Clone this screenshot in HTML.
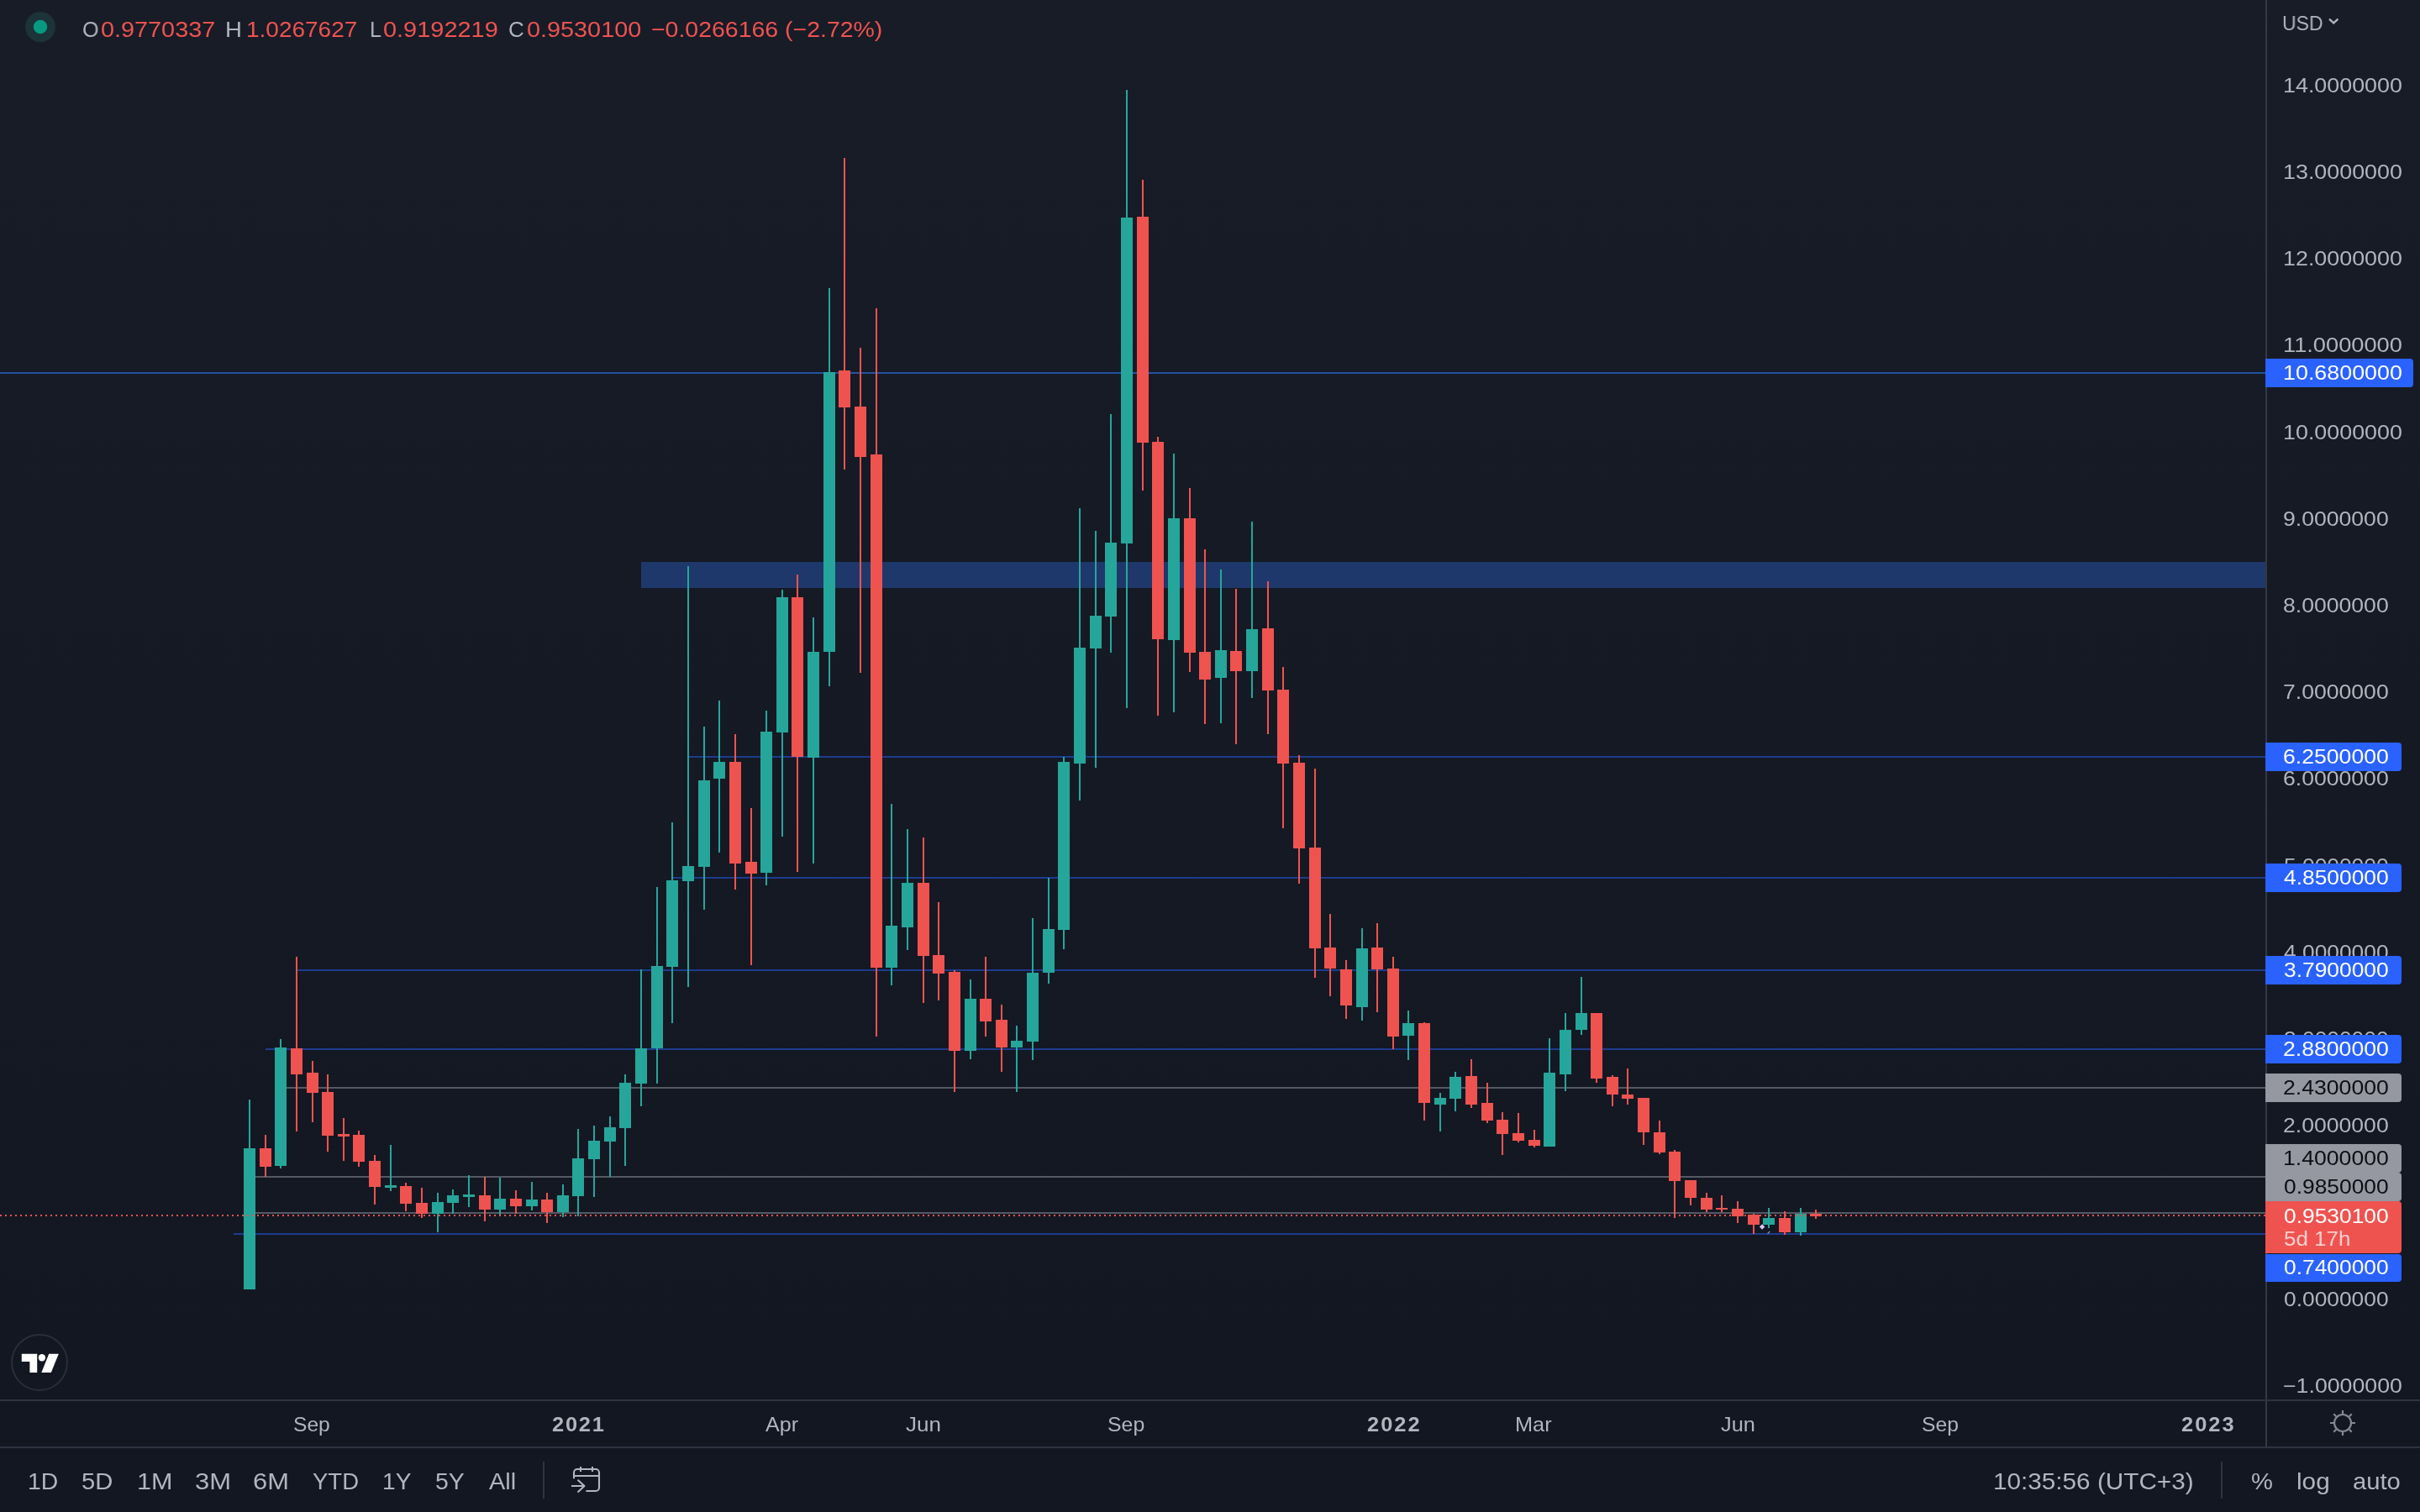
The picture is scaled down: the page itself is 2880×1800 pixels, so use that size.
<!DOCTYPE html>
<html><head><meta charset="utf-8"><title>chart</title>
<style>
html,body{margin:0;padding:0;background:#131722;overflow:hidden}
body{width:2880px;height:1800px;position:relative;overflow:hidden;font-family:"Liberation Sans",sans-serif}
#pane{position:absolute;left:0;top:0;width:2880px;height:1666px;background:linear-gradient(#181c27,#131722)}
svg{position:absolute;left:0;top:0}
.t{position:absolute;white-space:pre;line-height:1;transform-origin:0 0;display:block;will-change:transform}
.lb{position:absolute;left:2696px;border-radius:0 4px 4px 0}
</style></head><body>
<div id="pane"></div>
<svg width="2880" height="1800" viewBox="0 0 2880 1800" shape-rendering="crispEdges">
<rect x="763" y="669" width="1933" height="31" fill="#1f386b"/>
<rect x="0" y="443" width="2696" height="2" fill="#25539f"/>
<rect x="820" y="900" width="1876" height="2" fill="#1d3c8e"/>
<rect x="801" y="1044" width="1895" height="2" fill="#1d3c8e"/>
<rect x="354" y="1154" width="2342" height="2" fill="#1d3c8e"/>
<rect x="316" y="1248" width="2380" height="2" fill="#1d3c8e"/>
<rect x="334" y="1294" width="2362" height="2" fill="#545862"/>
<rect x="297" y="1400" width="2399" height="2" fill="#545862"/>
<rect x="297" y="1443" width="2399" height="2" fill="#545862"/>
<rect x="278" y="1468" width="2418" height="2" fill="#1d3c8e"/>
<rect x="296" y="1309" width="2" height="226" fill="#26a69a"/>
<rect x="290" y="1367" width="14" height="168" fill="#26a69a"/>
<rect x="315" y="1351" width="2" height="50" fill="#ef5350"/>
<rect x="309" y="1367" width="14" height="22" fill="#ef5350"/>
<rect x="333" y="1237" width="2" height="154" fill="#26a69a"/>
<rect x="327" y="1247" width="14" height="141" fill="#26a69a"/>
<rect x="352" y="1139" width="2" height="208" fill="#ef5350"/>
<rect x="346" y="1248" width="14" height="31" fill="#ef5350"/>
<rect x="371" y="1263" width="2" height="73" fill="#ef5350"/>
<rect x="365" y="1277" width="14" height="24" fill="#ef5350"/>
<rect x="389" y="1279" width="2" height="92" fill="#ef5350"/>
<rect x="383" y="1300" width="14" height="52" fill="#ef5350"/>
<rect x="408" y="1331" width="2" height="51" fill="#ef5350"/>
<rect x="402" y="1350" width="14" height="3" fill="#ef5350"/>
<rect x="426" y="1346" width="2" height="43" fill="#ef5350"/>
<rect x="420" y="1351" width="14" height="32" fill="#ef5350"/>
<rect x="445" y="1375" width="2" height="59" fill="#ef5350"/>
<rect x="439" y="1382" width="14" height="31" fill="#ef5350"/>
<rect x="464" y="1363" width="2" height="55" fill="#26a69a"/>
<rect x="458" y="1411" width="14" height="3" fill="#26a69a"/>
<rect x="482" y="1408" width="2" height="34" fill="#ef5350"/>
<rect x="476" y="1412" width="14" height="21" fill="#ef5350"/>
<rect x="501" y="1414" width="2" height="36" fill="#ef5350"/>
<rect x="495" y="1432" width="14" height="13" fill="#ef5350"/>
<rect x="520" y="1420" width="2" height="47" fill="#26a69a"/>
<rect x="514" y="1431" width="14" height="14" fill="#26a69a"/>
<rect x="538" y="1416" width="2" height="29" fill="#26a69a"/>
<rect x="532" y="1423" width="14" height="9" fill="#26a69a"/>
<rect x="557" y="1399" width="2" height="38" fill="#26a69a"/>
<rect x="551" y="1422" width="14" height="3" fill="#26a69a"/>
<rect x="576" y="1401" width="2" height="53" fill="#ef5350"/>
<rect x="570" y="1423" width="14" height="17" fill="#ef5350"/>
<rect x="594" y="1402" width="2" height="45" fill="#26a69a"/>
<rect x="588" y="1427" width="14" height="13" fill="#26a69a"/>
<rect x="613" y="1417" width="2" height="28" fill="#ef5350"/>
<rect x="607" y="1427" width="14" height="9" fill="#ef5350"/>
<rect x="632" y="1407" width="2" height="34" fill="#26a69a"/>
<rect x="626" y="1428" width="14" height="8" fill="#26a69a"/>
<rect x="650" y="1420" width="2" height="36" fill="#ef5350"/>
<rect x="644" y="1428" width="14" height="15" fill="#ef5350"/>
<rect x="669" y="1410" width="2" height="39" fill="#26a69a"/>
<rect x="663" y="1423" width="14" height="20" fill="#26a69a"/>
<rect x="687" y="1344" width="2" height="104" fill="#26a69a"/>
<rect x="681" y="1379" width="14" height="45" fill="#26a69a"/>
<rect x="706" y="1340" width="2" height="85" fill="#26a69a"/>
<rect x="700" y="1358" width="14" height="22" fill="#26a69a"/>
<rect x="725" y="1329" width="2" height="72" fill="#26a69a"/>
<rect x="719" y="1342" width="14" height="17" fill="#26a69a"/>
<rect x="743" y="1279" width="2" height="109" fill="#26a69a"/>
<rect x="737" y="1289" width="14" height="54" fill="#26a69a"/>
<rect x="762" y="1154" width="2" height="163" fill="#26a69a"/>
<rect x="756" y="1248" width="14" height="42" fill="#26a69a"/>
<rect x="781" y="1056" width="2" height="234" fill="#26a69a"/>
<rect x="775" y="1150" width="14" height="98" fill="#26a69a"/>
<rect x="799" y="979" width="2" height="239" fill="#26a69a"/>
<rect x="793" y="1048" width="14" height="103" fill="#26a69a"/>
<rect x="818" y="674" width="2" height="501" fill="#26a69a"/>
<rect x="812" y="1031" width="14" height="18" fill="#26a69a"/>
<rect x="837" y="865" width="2" height="218" fill="#26a69a"/>
<rect x="831" y="929" width="14" height="103" fill="#26a69a"/>
<rect x="855" y="834" width="2" height="181" fill="#26a69a"/>
<rect x="849" y="907" width="14" height="20" fill="#26a69a"/>
<rect x="874" y="874" width="2" height="185" fill="#ef5350"/>
<rect x="868" y="907" width="14" height="121" fill="#ef5350"/>
<rect x="893" y="962" width="2" height="187" fill="#ef5350"/>
<rect x="887" y="1026" width="14" height="14" fill="#ef5350"/>
<rect x="911" y="846" width="2" height="208" fill="#26a69a"/>
<rect x="905" y="871" width="14" height="168" fill="#26a69a"/>
<rect x="930" y="702" width="2" height="294" fill="#26a69a"/>
<rect x="924" y="711" width="14" height="161" fill="#26a69a"/>
<rect x="948" y="684" width="2" height="354" fill="#ef5350"/>
<rect x="942" y="711" width="14" height="190" fill="#ef5350"/>
<rect x="967" y="735" width="2" height="293" fill="#26a69a"/>
<rect x="961" y="776" width="14" height="126" fill="#26a69a"/>
<rect x="986" y="343" width="2" height="474" fill="#26a69a"/>
<rect x="980" y="443" width="14" height="333" fill="#26a69a"/>
<rect x="1004" y="188" width="2" height="371" fill="#ef5350"/>
<rect x="998" y="441" width="14" height="44" fill="#ef5350"/>
<rect x="1023" y="414" width="2" height="387" fill="#ef5350"/>
<rect x="1017" y="484" width="14" height="60" fill="#ef5350"/>
<rect x="1042" y="367" width="2" height="867" fill="#ef5350"/>
<rect x="1036" y="541" width="14" height="611" fill="#ef5350"/>
<rect x="1060" y="957" width="2" height="216" fill="#26a69a"/>
<rect x="1054" y="1102" width="14" height="50" fill="#26a69a"/>
<rect x="1079" y="987" width="2" height="144" fill="#26a69a"/>
<rect x="1073" y="1051" width="14" height="53" fill="#26a69a"/>
<rect x="1098" y="997" width="2" height="197" fill="#ef5350"/>
<rect x="1092" y="1051" width="14" height="87" fill="#ef5350"/>
<rect x="1116" y="1074" width="2" height="117" fill="#ef5350"/>
<rect x="1110" y="1137" width="14" height="22" fill="#ef5350"/>
<rect x="1135" y="1155" width="2" height="145" fill="#ef5350"/>
<rect x="1129" y="1157" width="14" height="94" fill="#ef5350"/>
<rect x="1154" y="1166" width="2" height="95" fill="#26a69a"/>
<rect x="1148" y="1189" width="14" height="62" fill="#26a69a"/>
<rect x="1172" y="1139" width="2" height="95" fill="#ef5350"/>
<rect x="1166" y="1189" width="14" height="27" fill="#ef5350"/>
<rect x="1191" y="1196" width="2" height="80" fill="#ef5350"/>
<rect x="1185" y="1214" width="14" height="33" fill="#ef5350"/>
<rect x="1209" y="1221" width="2" height="79" fill="#26a69a"/>
<rect x="1203" y="1239" width="14" height="8" fill="#26a69a"/>
<rect x="1228" y="1093" width="2" height="169" fill="#26a69a"/>
<rect x="1222" y="1158" width="14" height="82" fill="#26a69a"/>
<rect x="1247" y="1045" width="2" height="126" fill="#26a69a"/>
<rect x="1241" y="1106" width="14" height="52" fill="#26a69a"/>
<rect x="1265" y="901" width="2" height="229" fill="#26a69a"/>
<rect x="1259" y="907" width="14" height="200" fill="#26a69a"/>
<rect x="1284" y="605" width="2" height="348" fill="#26a69a"/>
<rect x="1278" y="771" width="14" height="138" fill="#26a69a"/>
<rect x="1303" y="632" width="2" height="282" fill="#26a69a"/>
<rect x="1297" y="733" width="14" height="39" fill="#26a69a"/>
<rect x="1321" y="493" width="2" height="284" fill="#26a69a"/>
<rect x="1315" y="646" width="14" height="88" fill="#26a69a"/>
<rect x="1340" y="107" width="2" height="736" fill="#26a69a"/>
<rect x="1334" y="259" width="14" height="388" fill="#26a69a"/>
<rect x="1359" y="214" width="2" height="370" fill="#ef5350"/>
<rect x="1353" y="258" width="14" height="269" fill="#ef5350"/>
<rect x="1377" y="520" width="2" height="332" fill="#ef5350"/>
<rect x="1371" y="526" width="14" height="235" fill="#ef5350"/>
<rect x="1396" y="540" width="2" height="308" fill="#26a69a"/>
<rect x="1390" y="617" width="14" height="145" fill="#26a69a"/>
<rect x="1415" y="581" width="2" height="219" fill="#ef5350"/>
<rect x="1409" y="617" width="14" height="160" fill="#ef5350"/>
<rect x="1433" y="654" width="2" height="208" fill="#ef5350"/>
<rect x="1427" y="776" width="14" height="33" fill="#ef5350"/>
<rect x="1452" y="678" width="2" height="183" fill="#26a69a"/>
<rect x="1446" y="774" width="14" height="33" fill="#26a69a"/>
<rect x="1470" y="701" width="2" height="185" fill="#ef5350"/>
<rect x="1464" y="775" width="14" height="24" fill="#ef5350"/>
<rect x="1489" y="621" width="2" height="210" fill="#26a69a"/>
<rect x="1483" y="749" width="14" height="50" fill="#26a69a"/>
<rect x="1508" y="692" width="2" height="182" fill="#ef5350"/>
<rect x="1502" y="748" width="14" height="74" fill="#ef5350"/>
<rect x="1526" y="794" width="2" height="192" fill="#ef5350"/>
<rect x="1520" y="821" width="14" height="88" fill="#ef5350"/>
<rect x="1545" y="899" width="2" height="153" fill="#ef5350"/>
<rect x="1539" y="908" width="14" height="102" fill="#ef5350"/>
<rect x="1564" y="915" width="2" height="249" fill="#ef5350"/>
<rect x="1558" y="1009" width="14" height="120" fill="#ef5350"/>
<rect x="1582" y="1088" width="2" height="98" fill="#ef5350"/>
<rect x="1576" y="1128" width="14" height="25" fill="#ef5350"/>
<rect x="1601" y="1143" width="2" height="70" fill="#ef5350"/>
<rect x="1595" y="1154" width="14" height="43" fill="#ef5350"/>
<rect x="1620" y="1105" width="2" height="110" fill="#26a69a"/>
<rect x="1614" y="1129" width="14" height="70" fill="#26a69a"/>
<rect x="1638" y="1099" width="2" height="106" fill="#ef5350"/>
<rect x="1632" y="1128" width="14" height="26" fill="#ef5350"/>
<rect x="1657" y="1139" width="2" height="110" fill="#ef5350"/>
<rect x="1651" y="1153" width="14" height="81" fill="#ef5350"/>
<rect x="1675" y="1203" width="2" height="59" fill="#26a69a"/>
<rect x="1669" y="1218" width="14" height="15" fill="#26a69a"/>
<rect x="1694" y="1217" width="2" height="117" fill="#ef5350"/>
<rect x="1688" y="1218" width="14" height="95" fill="#ef5350"/>
<rect x="1713" y="1301" width="2" height="46" fill="#26a69a"/>
<rect x="1707" y="1307" width="14" height="8" fill="#26a69a"/>
<rect x="1731" y="1276" width="2" height="47" fill="#26a69a"/>
<rect x="1725" y="1282" width="14" height="26" fill="#26a69a"/>
<rect x="1750" y="1261" width="2" height="58" fill="#ef5350"/>
<rect x="1744" y="1281" width="14" height="34" fill="#ef5350"/>
<rect x="1769" y="1289" width="2" height="48" fill="#ef5350"/>
<rect x="1763" y="1313" width="14" height="21" fill="#ef5350"/>
<rect x="1787" y="1324" width="2" height="51" fill="#ef5350"/>
<rect x="1781" y="1333" width="14" height="17" fill="#ef5350"/>
<rect x="1806" y="1325" width="2" height="35" fill="#ef5350"/>
<rect x="1800" y="1349" width="14" height="9" fill="#ef5350"/>
<rect x="1825" y="1345" width="2" height="21" fill="#ef5350"/>
<rect x="1819" y="1357" width="14" height="7" fill="#ef5350"/>
<rect x="1843" y="1236" width="2" height="129" fill="#26a69a"/>
<rect x="1837" y="1277" width="14" height="88" fill="#26a69a"/>
<rect x="1862" y="1206" width="2" height="93" fill="#26a69a"/>
<rect x="1856" y="1226" width="14" height="53" fill="#26a69a"/>
<rect x="1881" y="1163" width="2" height="69" fill="#26a69a"/>
<rect x="1875" y="1206" width="14" height="20" fill="#26a69a"/>
<rect x="1899" y="1206" width="2" height="83" fill="#ef5350"/>
<rect x="1893" y="1206" width="14" height="78" fill="#ef5350"/>
<rect x="1918" y="1280" width="2" height="37" fill="#ef5350"/>
<rect x="1912" y="1282" width="14" height="21" fill="#ef5350"/>
<rect x="1936" y="1272" width="2" height="43" fill="#ef5350"/>
<rect x="1930" y="1303" width="14" height="5" fill="#ef5350"/>
<rect x="1955" y="1307" width="2" height="56" fill="#ef5350"/>
<rect x="1949" y="1307" width="14" height="41" fill="#ef5350"/>
<rect x="1974" y="1334" width="2" height="40" fill="#ef5350"/>
<rect x="1968" y="1348" width="14" height="24" fill="#ef5350"/>
<rect x="1992" y="1369" width="2" height="81" fill="#ef5350"/>
<rect x="1986" y="1371" width="14" height="35" fill="#ef5350"/>
<rect x="2011" y="1405" width="2" height="30" fill="#ef5350"/>
<rect x="2005" y="1405" width="14" height="21" fill="#ef5350"/>
<rect x="2030" y="1420" width="2" height="23" fill="#ef5350"/>
<rect x="2024" y="1426" width="14" height="14" fill="#ef5350"/>
<rect x="2048" y="1423" width="2" height="20" fill="#ef5350"/>
<rect x="2042" y="1438" width="14" height="2" fill="#ef5350"/>
<rect x="2067" y="1430" width="2" height="26" fill="#ef5350"/>
<rect x="2061" y="1439" width="14" height="9" fill="#ef5350"/>
<rect x="2086" y="1445" width="2" height="24" fill="#ef5350"/>
<rect x="2080" y="1446" width="14" height="12" fill="#ef5350"/>
<rect x="2104" y="1438" width="2" height="24" fill="#26a69a"/>
<rect x="2098" y="1450" width="14" height="8" fill="#26a69a"/>
<rect x="2123" y="1442" width="2" height="28" fill="#ef5350"/>
<rect x="2117" y="1450" width="14" height="17" fill="#ef5350"/>
<rect x="2142" y="1438" width="2" height="33" fill="#26a69a"/>
<rect x="2136" y="1445" width="14" height="22" fill="#26a69a"/>
<rect x="2160" y="1440" width="2" height="11" fill="#ef5350"/>
<rect x="2154" y="1445" width="14" height="3" fill="#ef5350"/>
<line x1="0" y1="1447" x2="2696" y2="1447" stroke="#ef5350" stroke-width="2" stroke-dasharray="2 4"/>
<path d="M2097.1 1457.2l3.2 3.3-3.2 3.3-3.2-3.3z" fill="#d6c8f0" shape-rendering="auto"/><path d="M2103.6 1468.6l2.6-2.8" stroke="#9a9db0" stroke-width="1.2" shape-rendering="auto"/>
<rect x="2696" y="0" width="2" height="1722" fill="#343844"/>
<rect x="0" y="1666" width="2880" height="2" fill="#2f3340"/>
<rect x="0" y="1722" width="2880" height="2" fill="#2f3340"/>
<rect x="646" y="1740" width="2" height="44" fill="#2f3340"/>
<rect x="2643" y="1740" width="2" height="44" fill="#2f3340"/>
<g shape-rendering="geometricPrecision" fill="none">
<circle cx="48" cy="32" r="18" fill="#1c3339"/><circle cx="48" cy="32" r="8.2" fill="#089981"/>
<circle cx="47" cy="1622" r="33" stroke="#2a2e39" stroke-width="2" fill="#131722"/>
<path d="M25.8 1611.8H44.2V1634H35.4V1620.9H25.8z" fill="#fff"/><circle cx="49.9" cy="1616.3" r="4.2" fill="#fff"/><path d="M58.2 1611.8H69.8L60.8 1634H49.3z" fill="#fff"/>
<path d="M2772 22.7l5.2 4.6 5.2-4.6" stroke="#b2b5be" stroke-width="2.4"/>
<g stroke="#868993" stroke-width="2.2"><circle cx="2788" cy="1694" r="10"/>
<path d="M2788 1683v-4M2788 1705v4M2777 1694h-4M2799 1694h4M2780.2 1686.2l-2.9-2.9M2795.8 1686.2l2.9-2.9M2780.2 1701.8l-2.9 2.9M2795.8 1701.8l2.9 2.9"/></g>
<g stroke="#b2b5be" stroke-width="2.1" stroke-linejoin="round"><path d="M683 1760.3V1753a4 4 0 0 1 4-4H709a4 4 0 0 1 4 4V1771a4 4 0 0 1-4 4H697.4M683 1757H713M691 1746v6M705 1746v6M680 1769H695M687.5 1761.7l8 7.3-8 7.5"/></g>
</g>
</svg>
<span class="t" style="left:98.33px;top:22.29px;font-size:26px;color:#b2b5be;font-weight:400;transform:scaleX(0.9667)">O</span>
<span class="t" style="left:119.69px;top:22.29px;font-size:26px;color:#ef5350;font-weight:400;transform:scaleX(1.1083)">0.9770337</span>
<span class="t" style="left:268.28px;top:22.29px;font-size:26px;color:#b2b5be;font-weight:400;transform:scaleX(1.0600)">H</span>
<span class="t" style="left:292.72px;top:22.29px;font-size:26px;color:#ef5350;font-weight:400;transform:scaleX(1.0762)">1.0267627</span>
<span class="t" style="left:439.88px;top:22.29px;font-size:26px;color:#b2b5be;font-weight:400;transform:scaleX(0.9583)">L</span>
<span class="t" style="left:456.39px;top:22.29px;font-size:26px;color:#ef5350;font-weight:400;transform:scaleX(1.1125)">0.9192219</span>
<span class="t" style="left:605.22px;top:22.29px;font-size:26px;color:#b2b5be;font-weight:400;transform:scaleX(0.9765)">C</span>
<span class="t" style="left:626.69px;top:22.29px;font-size:26px;color:#ef5350;font-weight:400;transform:scaleX(1.1083)">0.9530100</span>
<span class="t" style="left:775.41px;top:22.29px;font-size:26px;color:#ef5350;font-weight:400;transform:scaleX(1.0946)">−0.0266166 (−2.72%)</span>
<span class="t" style="left:2715.84px;top:15.78px;font-size:24px;color:#b2b5be;font-weight:400;transform:scaleX(0.9607)">USD</span>
<span class="t" style="left:2716.65px;top:90.88px;font-size:23.3px;color:#b2b5be;font-weight:400;transform:scaleX(1.1529)">14.0000000</span>
<span class="t" style="left:2716.65px;top:194.08px;font-size:23.3px;color:#b2b5be;font-weight:400;transform:scaleX(1.1529)">13.0000000</span>
<span class="t" style="left:2716.65px;top:297.28px;font-size:23.3px;color:#b2b5be;font-weight:400;transform:scaleX(1.1529)">12.0000000</span>
<span class="t" style="left:2716.63px;top:400.48px;font-size:23.3px;color:#b2b5be;font-weight:400;transform:scaleX(1.1695)">11.0000000</span>
<span class="t" style="left:2716.65px;top:503.68px;font-size:23.3px;color:#b2b5be;font-weight:400;transform:scaleX(1.1529)">10.0000000</span>
<span class="t" style="left:2716.66px;top:606.88px;font-size:23.3px;color:#b2b5be;font-weight:400;transform:scaleX(1.1414)">9.0000000</span>
<span class="t" style="left:2716.66px;top:710.08px;font-size:23.3px;color:#b2b5be;font-weight:400;transform:scaleX(1.1414)">8.0000000</span>
<span class="t" style="left:2716.66px;top:813.28px;font-size:23.3px;color:#b2b5be;font-weight:400;transform:scaleX(1.1414)">7.0000000</span>
<span class="t" style="left:2716.66px;top:916.48px;font-size:23.3px;color:#b2b5be;font-weight:400;transform:scaleX(1.1414)">6.0000000</span>
<span class="t" style="left:2717.80px;top:1019.68px;font-size:23.3px;color:#b2b5be;font-weight:400;transform:scaleX(1.1310)">5.0000000</span>
<span class="t" style="left:2717.80px;top:1122.88px;font-size:23.3px;color:#b2b5be;font-weight:400;transform:scaleX(1.1310)">4.0000000</span>
<span class="t" style="left:2717.80px;top:1226.08px;font-size:23.3px;color:#b2b5be;font-weight:400;transform:scaleX(1.1310)">3.0000000</span>
<span class="t" style="left:2716.66px;top:1329.28px;font-size:23.3px;color:#b2b5be;font-weight:400;transform:scaleX(1.1414)">2.0000000</span>
<span class="t" style="left:2717.80px;top:1535.68px;font-size:23.3px;color:#b2b5be;font-weight:400;transform:scaleX(1.1310)">0.0000000</span>
<span class="t" style="left:2716.65px;top:1638.88px;font-size:23.3px;color:#b2b5be;font-weight:400;transform:scaleX(1.1468)">−1.0000000</span>
<span class="t" style="left:349.27px;top:1683.98px;font-size:24px;color:#b2b5be;font-weight:400;transform:scaleX(1.0253)">Sep</span>
<span class="t" style="left:657.25px;top:1683.98px;font-size:24px;color:#b2b5be;font-weight:700;letter-spacing:1.66px;transform:scaleX(1.06)">2021</span>
<span class="t" style="left:911.10px;top:1683.98px;font-size:24px;color:#b2b5be;font-weight:400;transform:scaleX(1.0440)">Apr</span>
<span class="t" style="left:1078.15px;top:1683.98px;font-size:24px;color:#b2b5be;font-weight:400;transform:scaleX(1.0844)">Jun</span>
<span class="t" style="left:1318.37px;top:1683.98px;font-size:24px;color:#b2b5be;font-weight:400;transform:scaleX(1.0349)">Sep</span>
<span class="t" style="left:1626.90px;top:1683.98px;font-size:24px;color:#b2b5be;font-weight:700;letter-spacing:1.88px;transform:scaleX(1.06)">2022</span>
<span class="t" style="left:1802.94px;top:1683.98px;font-size:24px;color:#b2b5be;font-weight:400;transform:scaleX(1.0560)">Mar</span>
<span class="t" style="left:2048.10px;top:1683.98px;font-size:24px;color:#b2b5be;font-weight:400;transform:scaleX(1.0550)">Jun</span>
<span class="t" style="left:2287.42px;top:1683.98px;font-size:24px;color:#b2b5be;font-weight:400;transform:scaleX(1.0277)">Sep</span>
<span class="t" style="left:2596.35px;top:1683.98px;font-size:24px;color:#b2b5be;font-weight:700;letter-spacing:1.91px;transform:scaleX(1.06)">2023</span>
<span class="t" style="left:32.84px;top:1749.62px;font-size:27.5px;color:#b2b5be;font-weight:400;transform:scaleX(1.0311)">1D</span>
<span class="t" style="left:97.34px;top:1749.62px;font-size:27.5px;color:#b2b5be;font-weight:400;transform:scaleX(1.0602)">5D</span>
<span class="t" style="left:163.18px;top:1749.62px;font-size:27.5px;color:#b2b5be;font-weight:400;transform:scaleX(1.1110)">1M</span>
<span class="t" style="left:232.08px;top:1749.62px;font-size:27.5px;color:#b2b5be;font-weight:400;transform:scaleX(1.1248)">3M</span>
<span class="t" style="left:301.18px;top:1749.62px;font-size:27.5px;color:#b2b5be;font-weight:400;transform:scaleX(1.1220)">6M</span>
<span class="t" style="left:371.70px;top:1749.62px;font-size:27.5px;color:#b2b5be;font-weight:400;transform:scaleX(0.9956)">YTD</span>
<span class="t" style="left:454.95px;top:1749.62px;font-size:27.5px;color:#b2b5be;font-weight:400;transform:scaleX(1.0226)">1Y</span>
<span class="t" style="left:517.77px;top:1749.62px;font-size:27.5px;color:#b2b5be;font-weight:400;transform:scaleX(1.0342)">5Y</span>
<span class="t" style="left:581.90px;top:1749.62px;font-size:27.5px;color:#b2b5be;font-weight:400;transform:scaleX(1.0526)">All</span>
<span class="t" style="left:2372.04px;top:1749.62px;font-size:27.5px;color:#b2b5be;font-weight:400;transform:scaleX(1.0803)">10:35:56 (UTC+3)</span>
<span class="t" style="left:2678.80px;top:1749.62px;font-size:27.5px;color:#b2b5be;font-weight:400;transform:scaleX(1.0583)">%</span>
<span class="t" style="left:2732.92px;top:1749.62px;font-size:27.5px;color:#b2b5be;font-weight:400;transform:scaleX(1.0813)">log</span>
<span class="t" style="left:2800.34px;top:1749.62px;font-size:27.5px;color:#b2b5be;font-weight:400;transform:scaleX(1.0626)">auto</span>
<div class="lb" style="top:427px;height:34px;width:176px;background:#2962ff"></div>
<div class="lb" style="top:884px;height:34px;width:162px;background:#2962ff"></div>
<div class="lb" style="top:1028px;height:34px;width:162px;background:#2962ff"></div>
<div class="lb" style="top:1138px;height:34px;width:162px;background:#2962ff"></div>
<div class="lb" style="top:1232px;height:34px;width:162px;background:#2962ff"></div>
<div class="lb" style="top:1278px;height:34px;width:162px;background:#9598a1"></div>
<div class="lb" style="top:1362px;height:34px;width:162px;background:#9598a1"></div>
<div class="lb" style="top:1396px;height:34px;width:162px;background:#9598a1"></div>
<div class="lb" style="top:1430px;height:62px;width:162px;background:#ef5350"></div>
<div class="lb" style="top:1492.6px;height:33.40000000000009px;width:162px;background:#2962ff"></div>
<span class="t" style="left:2716.65px;top:433.18px;font-size:23.3px;color:#fff;font-weight:400;transform:scaleX(1.1529)">10.6800000</span>
<span class="t" style="left:2716.66px;top:890.18px;font-size:23.3px;color:#fff;font-weight:400;transform:scaleX(1.1423)">6.2500000</span>
<span class="t" style="left:2717.80px;top:1034.18px;font-size:23.3px;color:#fff;font-weight:400;transform:scaleX(1.1319)">4.8500000</span>
<span class="t" style="left:2717.80px;top:1144.18px;font-size:23.3px;color:#fff;font-weight:400;transform:scaleX(1.1319)">3.7900000</span>
<span class="t" style="left:2716.66px;top:1238.18px;font-size:23.3px;color:#fff;font-weight:400;transform:scaleX(1.1423)">2.8800000</span>
<span class="t" style="left:2716.66px;top:1284.18px;font-size:23.3px;color:#0c0e15;font-weight:400;transform:scaleX(1.1423)">2.4300000</span>
<span class="t" style="left:2716.66px;top:1368.18px;font-size:23.3px;color:#0c0e15;font-weight:400;transform:scaleX(1.1423)">1.4000000</span>
<span class="t" style="left:2717.80px;top:1402.18px;font-size:23.3px;color:#0c0e15;font-weight:400;transform:scaleX(1.1319)">0.9850000</span>
<span class="t" style="left:2717.80px;top:1436.58px;font-size:23.3px;color:#fff;font-weight:400;transform:scaleX(1.1319)">0.9530100</span>
<span class="t" style="left:2717.80px;top:1498.48px;font-size:23.3px;color:#fff;font-weight:400;transform:scaleX(1.1319)">0.7400000</span>
<span class="t" style="left:2717.70px;top:1464.28px;font-size:23.3px;color:rgba(255,255,255,0.72);font-weight:400;transform:scaleX(1.1138)">5d 17h</span>
</body></html>
